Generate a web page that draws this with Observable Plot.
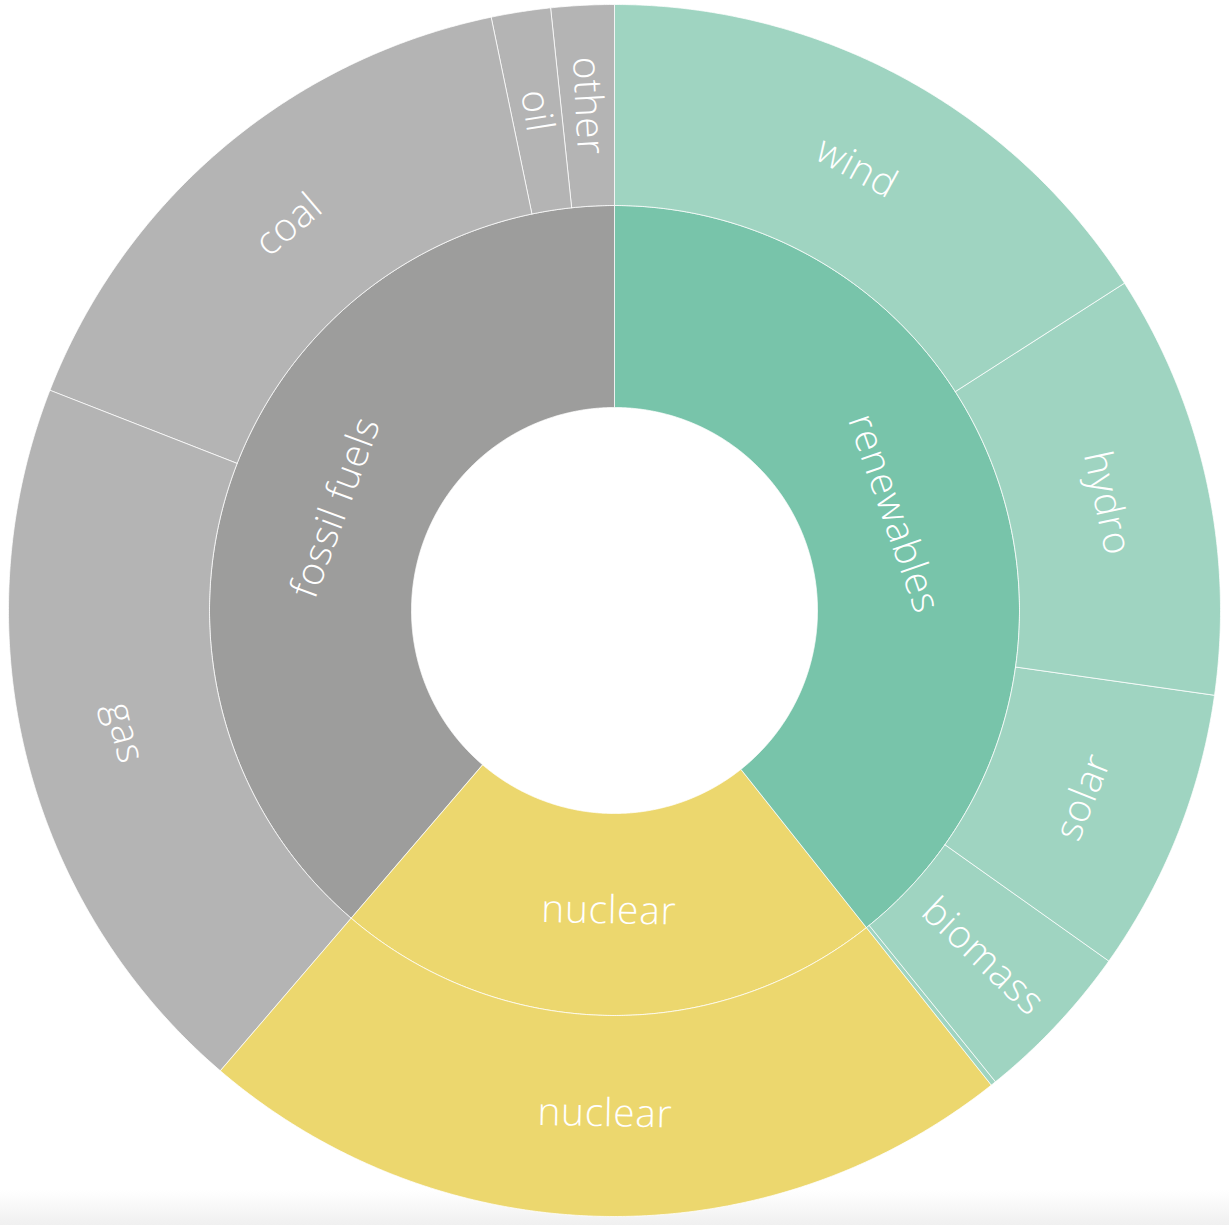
<!DOCTYPE html>
<html>
<head>
<meta charset="utf-8">
<script src="https://cdn.jsdelivr.net/npm/d3@7"></script>
<script src="https://cdn.jsdelivr.net/npm/@observablehq/plot@0.6"></script>
<style>
  html, body { margin: 0; padding: 0; overflow: hidden; }
  body { width: 1229px; height: 1225px; background: linear-gradient(to bottom, #ffffff 0px, #ffffff 1190px, #f0f0f0 1225px); }
  #chart svg { display: block; }
</style>
</head>
<body>
<div id="chart"></div>
<script>
// ---- data ----
const parentNames = ["renewables", "nuclear", "fossil fuels"];
const leafNames   = ["wind", "hydro", "solar", "biomass", "other", "nuclear", "gas", "coal", "oil", "other"];
const leafParents = ["renewables", "renewables", "renewables", "renewables", "renewables", "nuclear", "fossil fuels", "fossil fuels", "fossil fuels", "fossil fuels"];
const leafValues  = [15.92, 11.31, 7.58, 4.36, 0.14, 21.94, 19.64, 15.81, 1.58, 1.67];

// ---- styles ----
const innerColor = {"renewables": "#78c4aa", "nuclear": "#ecd76e", "fossil fuels": "#9d9d9c"};
const outerColor = {"renewables": "#9fd4c1", "nuclear": "#ecd76e", "fossil fuels": "#b4b4b4"};
const R0 = 203, R1 = 405, R2 = 606;
const FONT = 39;
const FONT_FAMILY = "'Open Sans', sans-serif";
const LETTER_SPACING = 0.6;

// ---- layout ----
const total = d3.sum(leafValues);
const parentTotals = parentNames.map(p => d3.sum(leafValues.filter((v, i) => leafParents[i] === p)));

const slices = [];
let acc = 0;
parentNames.forEach((p, i) => {
  const a0 = acc / total * 360, a1 = (acc + parentTotals[i]) / total * 360;
  slices.push({id: "p" + i, name: p, a0, a1, r0: R0, r1: R1, color: innerColor[p]});
  acc += parentTotals[i];
});
acc = 0;
parentNames.forEach((p) => {
  leafNames.forEach((n, j) => {
    if (leafParents[j] !== p) return;
    const a0 = acc / total * 360, a1 = (acc + leafValues[j]) / total * 360;
    slices.push({id: "l" + j, name: n, a0, a1, r0: R1, r1: R2, color: outerColor[p]});
    acc += leafValues[j];
  });
});

const rad = d => d * Math.PI / 180;
const pts = [];
for (const s of slices) {
  const span = s.a1 - s.a0;
  const n = Math.max(2, Math.ceil(span / 0.25));
  for (let k = 0; k <= n; k++) {
    const a = rad(s.a0 + span * k / n);
    pts.push({id: s.id, color: s.color, x: s.r1 * Math.sin(a), y: s.r1 * Math.cos(a)});
  }
  for (let k = n; k >= 0; k--) {
    const a = rad(s.a0 + span * k / n);
    pts.push({id: s.id, color: s.color, x: s.r0 * Math.sin(a), y: s.r0 * Math.cos(a)});
  }
}

const ctx = document.createElement("canvas").getContext("2d");
ctx.font = `300 ${FONT}px ${FONT_FAMILY}`;
const labels = [];
for (const s of slices) {
  const mid = (s.a0 + s.a1) / 2;
  const rm = (s.r0 + s.r1) / 2;
  const arcLen = rad(s.a1 - s.a0) * rm;
  const w = ctx.measureText(s.name).width + LETTER_SPACING * s.name.length;
  const radialLen = s.r1 - s.r0;
  let rotate, rc = rm;
  if (arcLen > w + 10) {
    rotate = ((mid + 90) % 180 + 180) % 180 - 90;
    // centre the straight (chord-like) text box radially inside the ring
    const h = FONT * 0.75;
    let lo = s.r0, hi = s.r1;
    for (let it = 0; it < 40; it++) {
      const r = (lo + hi) / 2;
      const f = r - h / 2 + Math.hypot(r + h / 2, w / 2) - (s.r0 + s.r1);
      if (f > 0) hi = r; else lo = r;
    }
    rc = (lo + hi) / 2;
  } else if (radialLen > w + 10 && arcLen > FONT * 0.9) {
    rotate = ((mid % 180) + 180) % 180 - 90;
  } else continue;
  labels.push({name: s.name, x: rc * Math.sin(rad(mid)), y: rc * Math.cos(rad(mid)), rotate});
}

const chart = Plot.plot({
  width: 1229,
  height: 1225,
  margin: 0,
  style: {background: "transparent"},
  x: {domain: [-614, 615], axis: null},
  y: {domain: [-615, 610], axis: null},
  color: {type: "identity"},
  marks: [
    Plot.line(pts, {x: "x", y: "y", z: "id", fill: "color", stroke: "white", strokeWidth: 1, strokeOpacity: 0.75, curve: "linear-closed"}),
    Plot.text(labels, {x: "x", y: "y", text: "name", rotate: "rotate", fill: "white", fontSize: FONT, fontWeight: 300, fontFamily: FONT_FAMILY, textAnchor: "middle", lineAnchor: "middle"})
  ]
});
chart.querySelectorAll("text").forEach(t => t.style.letterSpacing = LETTER_SPACING + "px");
document.getElementById("chart").appendChild(chart);
</script>
</body>
</html>
